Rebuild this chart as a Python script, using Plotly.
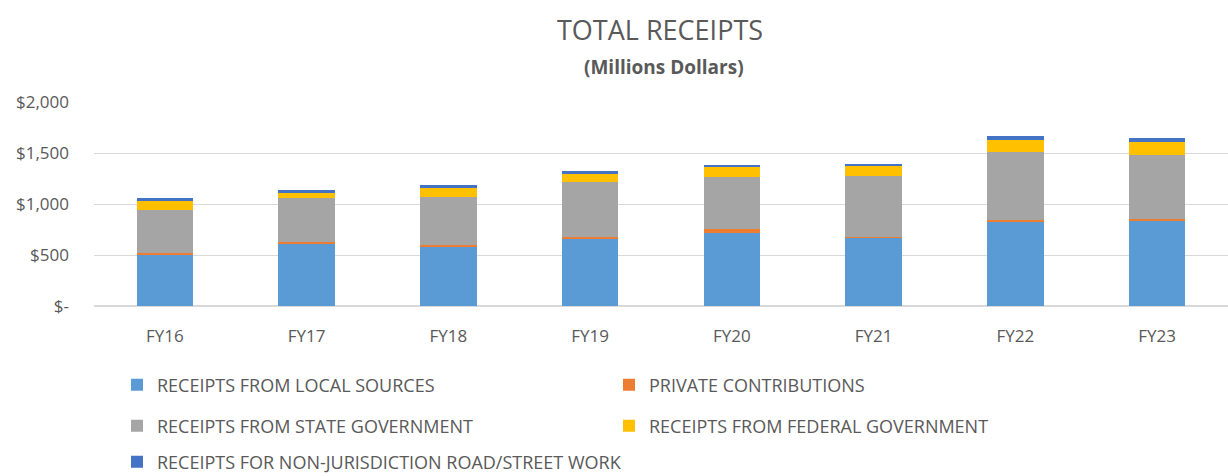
import plotly.graph_objects as go

years = ["FY16", "FY17", "FY18", "FY19", "FY20", "FY21", "FY22", "FY23"]
local_sources = [506, 614, 587, 653, 718, 669, 832, 842]
private_contrib = [15, 10, 15, 25, 40, 10, 10, 10]
state_gov = [420, 430, 468, 537, 508, 597, 669, 633]
federal_gov = [88, 55, 88, 82, 92, 95, 121, 118]
non_jurisdiction = [26, 30, 27, 29, 29, 26, 32, 45]

tick_vals = [0, 500, 1000, 1500, 2000]
tick_text = ["$-", "$500", "$1,000", "$1,500", "$2,000"]

names = ["RECEIPTS FROM LOCAL SOURCES", "PRIVATE CONTRIBUTIONS", "RECEIPTS FROM STATE GOVERNMENT",
         "RECEIPTS FROM FEDERAL GOVERNMENT", "RECEIPTS FOR NON-JURISDICTION ROAD/STREET WORK"]
values = [local_sources, private_contrib, state_gov, federal_gov, non_jurisdiction]
colors = ["#5B9BD5", "#ED7D31", "#A5A5A5", "#FFC000", "#4472C4"]

FONT = "Open Sans, sans-serif"
GRAY = "#595959"

W, H = 1228, 476
left, right, top, bottom = 94, 0, 102, 170
pw, ph = W - left - right, H - top - bottom

# legend pixel positions (left x, row centre y)
leg_pos = [(117, 385), (609, 385), (117, 426), (609, 426), (117, 462)]
leg_ids = ["legend", "legend2", "legend3", "legend4", "legend5"]

fig = go.Figure()
for name, vals, color, lid in zip(names, values, colors, leg_ids):
    fig.add_trace(go.Bar(x=years, y=vals, name=name, marker=dict(color=color, line=dict(width=0)),
                         legend=lid, showlegend=True))

legends = {}
for lid, (px, py) in zip(leg_ids, leg_pos):
    legends[lid] = dict(orientation="h", x=(px - left) / pw, xanchor="left",
                        y=1 - (py - top) / ph, yanchor="middle",
                        font=dict(family=FONT, size=18, color=GRAY),
                        itemwidth=30, bgcolor="rgba(0,0,0,0)")

fig.update_layout(
    width=W, height=H, showlegend=True,
    margin=dict(l=left, r=right, t=top, b=bottom, pad=0, autoexpand=False),
    barmode="stack", bargap=0.6,
    plot_bgcolor="white", paper_bgcolor="white",
    font=dict(family=FONT, color=GRAY),
    xaxis=dict(showgrid=False, showline=False, ticks="", ticklabelstandoff=18,
               tickfont=dict(family=FONT, size=17, color=GRAY)),
    yaxis=dict(range=[0, 2000], tickvals=tick_vals, ticktext=tick_text,
               showgrid=True, gridcolor="#D9D9D9", gridwidth=1, zeroline=True,
               zerolinecolor="#D9D9D9", ticks="", ticklabelstandoff=24,
               tickfont=dict(family=FONT, size=17, color=GRAY)),
    annotations=[
        dict(text="TOTAL RECEIPTS", x=(660 - left) / pw, y=(H - 30 - bottom) / ph,
             xref="paper", yref="paper", showarrow=False, yanchor="middle",
             font=dict(family=FONT, size=27, color=GRAY)),
        dict(text="<b>(Millions Dollars)</b>", x=(664 - left) / pw, y=(H - 67 - bottom) / ph,
             xref="paper", yref="paper", showarrow=False, yanchor="middle",
             font=dict(family=FONT, size=19, color=GRAY)),
    ],
    **legends,
)

fig.write_html("out.html")
